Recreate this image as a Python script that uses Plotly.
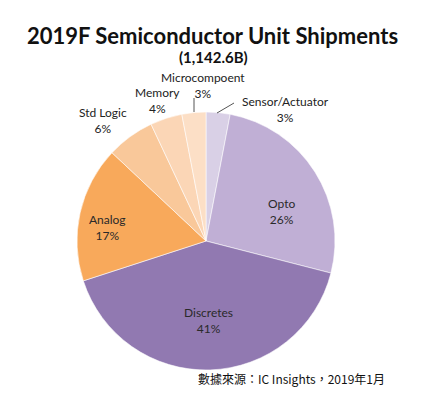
import plotly.graph_objects as go

labels = ["Sensor/Actuator", "Opto", "Discretes", "Analog", "Std Logic", "Memory", "Microcompoent"]
values = [3, 26, 41, 17, 6, 4, 3]
colors = ["#D9D0E6", "#C0AFD5", "#9179B1", "#F8A95B", "#F9C89A", "#FBD6B6", "#FCDFC6"]

title = "2019F Semiconductor Unit Shipments"
subtitle = "(1,142.6B)"
source = "數據來源：IC Insights，2019年1月"

W, H = 425, 398
cx, cy, R = 206, 241, 129

fig = go.Figure(go.Pie(
    labels=labels, values=values, sort=False, direction="clockwise", rotation=0,
    marker=dict(colors=colors, line=dict(color="rgba(255,255,255,0.7)", width=0.8)),
    textinfo="none",
    hoverinfo="label+percent", showlegend=False,
    domain=dict(x=[(cx - R) / W, (cx + R) / W], y=[1 - (cy + R) / H, 1 - (cy - R) / H]),
))

ann = []
def add(x, y, text, size=12, bold=False, family="Lato", color="#222222", **kw):
    t = f"<b>{text}</b>" if bold else text
    ann.append(dict(x=x / W, y=1 - y / H, xref="paper", yref="paper", text=t, showarrow=False,
                    xanchor="center", yanchor="middle",
                    font=dict(family=family, size=size, color=color), **kw))

add(212, 36, title, size=22, bold=True, color="#111111")
add(213, 57, subtitle, size=15, bold=True, color="#111111")
add(291, 378, source, size=12, family="Noto Sans CJK TC", color="#111111")

idx = {l: i for i, l in enumerate(labels)}
def lab(name):
    return f"{name}<br>{values[idx[name]]}%"

# outside labels
add(103, 121, lab("Std Logic"))
add(157, 101, lab("Memory"))
add(203, 86, lab("Microcompoent"))
add(285, 110, lab("Sensor/Actuator"))
# inside labels
add(281, 211, lab("Opto"), color="#2a2a2a")
add(208, 320, lab("Discretes"), color="#2a2a2a")
add(107, 227, lab("Analog"), color="#2a2a2a")

fig.update_layout(annotations=ann)
fig.add_shape(type="line", xref="paper", yref="paper", x0=194 / W, x1=194 / W,
              y0=1 - 112 / H, y1=1 - 98 / H, line=dict(color="#555555", width=1))
fig.add_shape(type="line", xref="paper", yref="paper", x0=217 / W, x1=234 / W,
              y0=1 - 113 / H, y1=1 - 103 / H, line=dict(color="#555555", width=1))

fig.update_layout(width=W, height=H, margin=dict(l=0, r=0, t=0, b=0),
                  paper_bgcolor="white", plot_bgcolor="white")
fig.write_html("out.html", post_script="document.body.style.margin='0';",
               config={"displayModeBar": False})
